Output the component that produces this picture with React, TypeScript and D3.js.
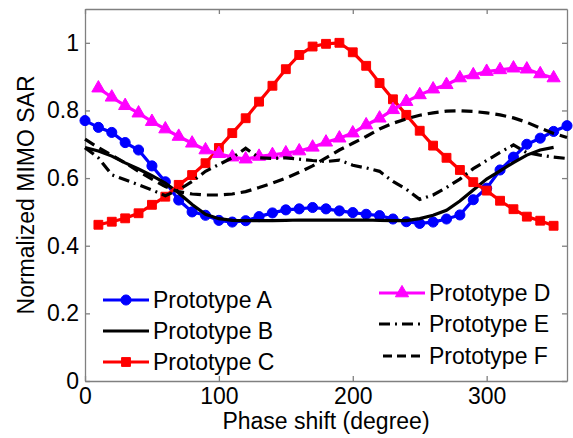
import React, { useEffect, useRef } from 'react';
import * as d3 from 'd3';

// phase shift grids (degree)
const phaseAll = [0, 10, 20, 30, 40, 50, 60, 70, 80, 90, 100, 110, 120, 130, 140, 150, 160, 170, 180,
  190, 200, 210, 220, 230, 240, 250, 260, 270, 280, 290, 300, 310, 320, 330, 340, 350, 360];
const phaseInner = [10, 20, 30, 40, 50, 60, 70, 80, 90, 100, 110, 120, 130, 140, 150, 160, 170, 180,
  190, 200, 210, 220, 230, 240, 250, 260, 270, 280, 290, 300, 310, 320, 330, 340, 350];
const phaseB = [0, 10, 20, 30, 40, 50, 60, 70, 80, 90, 100, 110, 120, 130, 140, 150, 160, 170, 180,
  190, 200, 210, 220, 230, 240, 250, 260, 270, 280, 290, 300, 310, 320, 330, 340, 350];

const sarA = [0.77, 0.75, 0.735, 0.705, 0.683, 0.636, 0.589, 0.535, 0.5, 0.49, 0.475, 0.47, 0.474,
  0.486, 0.497, 0.506, 0.509, 0.513, 0.509, 0.503, 0.498, 0.493, 0.489, 0.479, 0.471, 0.466, 0.47,
  0.479, 0.491, 0.536, 0.57, 0.624, 0.662, 0.7, 0.718, 0.738, 0.755];
const sarB = [0.69, 0.68, 0.665, 0.645, 0.627, 0.607, 0.585, 0.556, 0.522, 0.493, 0.48, 0.475, 0.474,
  0.474, 0.474, 0.475, 0.476, 0.476, 0.476, 0.476, 0.476, 0.476, 0.475, 0.474, 0.474, 0.48, 0.49,
  0.505, 0.532, 0.565, 0.597, 0.621, 0.646, 0.668, 0.683, 0.691];
const sarC = [0.462, 0.471, 0.481, 0.496, 0.521, 0.545, 0.58, 0.609, 0.644, 0.689, 0.733, 0.777, 0.826,
  0.873, 0.922, 0.964, 0.989, 0.997, 1.0, 0.972, 0.932, 0.881, 0.833, 0.787, 0.74, 0.696, 0.66, 0.624,
  0.588, 0.563, 0.533, 0.508, 0.486, 0.474, 0.459];
const sarD = [0.866, 0.839, 0.814, 0.792, 0.767, 0.745, 0.723, 0.703, 0.683, 0.672, 0.662, 0.656, 0.664,
  0.669, 0.674, 0.68, 0.691, 0.706, 0.718, 0.733, 0.757, 0.777, 0.802, 0.826, 0.846, 0.863, 0.876, 0.896,
  0.905, 0.915, 0.92, 0.925, 0.922, 0.908, 0.896];
const sarE = [0.69, 0.66, 0.61, 0.595, 0.58, 0.565, 0.548, 0.565, 0.59, 0.62, 0.64, 0.66, 0.688, 0.66,
  0.658, 0.66, 0.656, 0.652, 0.649, 0.653, 0.638, 0.63, 0.62, 0.59, 0.567, 0.537, 0.55, 0.572, 0.597,
  0.628, 0.652, 0.676, 0.698, 0.675, 0.668, 0.662, 0.658];
const sarF = [0.715, 0.69, 0.668, 0.645, 0.62, 0.597, 0.575, 0.56, 0.553, 0.55, 0.55, 0.553, 0.56,
  0.572, 0.585, 0.6, 0.617, 0.636, 0.66, 0.683, 0.703, 0.723, 0.745, 0.762, 0.775, 0.786, 0.793, 0.798,
  0.799, 0.797, 0.793, 0.787, 0.778, 0.765, 0.748, 0.732, 0.72];

const xTicks = [0, 100, 200, 300];
const yTicks = [0, 0.2, 0.4, 0.6, 0.8, 1];

const FONT = '"Liberation Sans", Arial, sans-serif';

export default function App() {
  const ref = useRef<SVGSVGElement>(null);

  useEffect(() => {
    const width = 573;
    const height = 438;
    const left = 85, right = 567, top = 9, bottom = 381;

    const svg = d3.select(ref.current).attr('width', width).attr('height', height);
    svg.selectAll('*').remove();

    const x = d3.scaleLinear().domain([0, 360]).range([left, right]);
    const y = d3.scaleLinear().domain([0, 1.1]).range([bottom, top]);

    const axisColor = '#808080';

    // axes (ticks pointing inward, on all four sides)
    const fmt = (d: d3.NumberValue) => d3.format('')(+d);
    svg.append('g').attr('transform', `translate(0,${bottom})`)
      .call(d3.axisBottom(x).tickValues(xTicks).tickSizeInner(-5).tickSizeOuter(0).tickPadding(7).tickFormat(fmt));
    svg.append('g').attr('transform', `translate(${left},0)`)
      .call(d3.axisLeft(y).tickValues(yTicks).tickSizeInner(-5).tickSizeOuter(0).tickPadding(6).tickFormat(fmt));
    svg.append('g').attr('transform', `translate(0,${top})`)
      .call(d3.axisTop(x).tickValues(xTicks).tickSizeInner(-5).tickSizeOuter(0).tickFormat(() => ''));
    svg.append('g').attr('transform', `translate(${right},0)`)
      .call(d3.axisRight(y).tickValues(yTicks).tickSizeInner(-5).tickSizeOuter(0).tickFormat(() => ''));

    svg.selectAll('.domain').attr('stroke', axisColor).attr('stroke-width', 1.3);
    svg.selectAll('.tick line').attr('stroke', axisColor).attr('stroke-width', 1.3);
    svg.selectAll('.tick text').attr('fill', '#000').style('font-family', FONT).style('font-size', '23px');

    const plot = svg.append('g');

    const draw = (xs: number[], ys: number[], color: string, dash: string | null) => {
      const line = d3.line<number>().x((_, i) => x(xs[i])).y(d => y(d));
      plot.append('path').datum(ys).attr('d', line).attr('fill', 'none')
        .attr('stroke', color).attr('stroke-width', 3.2)
        .attr('stroke-dasharray', dash);
    };

    const circle = d3.symbol().type(d3.symbolCircle).size(80);
    const square = d3.symbol().type(d3.symbolSquare).size(78);
    const tri = d3.symbol().type(d3.symbolTriangle).size(75);

    const markers = (xs: number[], ys: number[], color: string, sym: d3.Symbol<any, any>) => {
      plot.append('g').selectAll('path').data(ys).join('path')
        .attr('transform', (d, i) => `translate(${x(xs[i])},${y(d)})`)
        .attr('d', sym as any).attr('fill', color).attr('stroke', color).attr('stroke-width', 1);
    };

    const dashDot = '11,5,2,5';
    const dashed = '11,6';

    draw(phaseAll, sarA, '#0000ff', null);
    markers(phaseAll, sarA, '#0000ff', circle);
    draw(phaseB, sarB, '#000', null);
    draw(phaseInner, sarC, '#ff0000', null);
    markers(phaseInner, sarC, '#ff0000', square);
    draw(phaseInner, sarD, '#ff00ff', null);
    markers(phaseInner, sarD, '#ff00ff', tri);
    draw(phaseAll, sarE, '#000', dashDot);
    draw(phaseAll, sarF, '#000', dashed);

    // axis titles
    svg.append('text').attr('x', (left + right) / 2).attr('y', 429).attr('text-anchor', 'middle')
      .style('font-family', FONT).style('font-size', '23px').text('Phase shift (degree)');
    svg.append('text').attr('transform', `translate(34,${(top + bottom) / 2}) rotate(-90)`)
      .attr('text-anchor', 'middle')
      .style('font-family', FONT).style('font-size', '23px').text('Normalized MIMO SAR');

    // legends
    const legendItems = [
      { name: 'Prototype A', color: '#0000ff', dash: null, sym: circle, x0: 103, x1: 149, tx: 153, ly: 300 },
      { name: 'Prototype B', color: '#000', dash: null, sym: null, x0: 103, x1: 149, tx: 153, ly: 331 },
      { name: 'Prototype C', color: '#ff0000', dash: null, sym: square, x0: 103, x1: 149, tx: 153, ly: 362 },
      { name: 'Prototype D', color: '#ff00ff', dash: null, sym: tri, x0: 379, x1: 425, tx: 429, ly: 293 },
      { name: 'Prototype E', color: '#000', dash: '11,5,2,5', sym: null, x0: 379, x1: 425, tx: 429, ly: 324 },
      { name: 'Prototype F', color: '#000', dash: '9,5', sym: null, x0: 383, x1: 425, tx: 429, ly: 356 },
    ];
    const lg = svg.append('g');
    legendItems.forEach(it => {
      lg.append('line').attr('x1', it.x0).attr('x2', it.x1).attr('y1', it.ly).attr('y2', it.ly)
        .attr('stroke', it.color).attr('stroke-width', 3.2).attr('stroke-dasharray', it.dash);
      if (it.sym) {
        lg.append('path').attr('transform', `translate(${(it.x0 + it.x1) / 2},${it.ly})`)
          .attr('d', it.sym as any).attr('fill', it.color).attr('stroke', it.color);
      }
      lg.append('text').attr('x', it.tx).attr('y', it.ly + 8)
        .style('font-family', FONT).style('font-size', '23px').text(it.name);
    });
  }, []);

  return (
    <svg ref={ref} style={{ position: 'absolute', left: 0, top: 0, background: '#fff' }}></svg>
  );
}
